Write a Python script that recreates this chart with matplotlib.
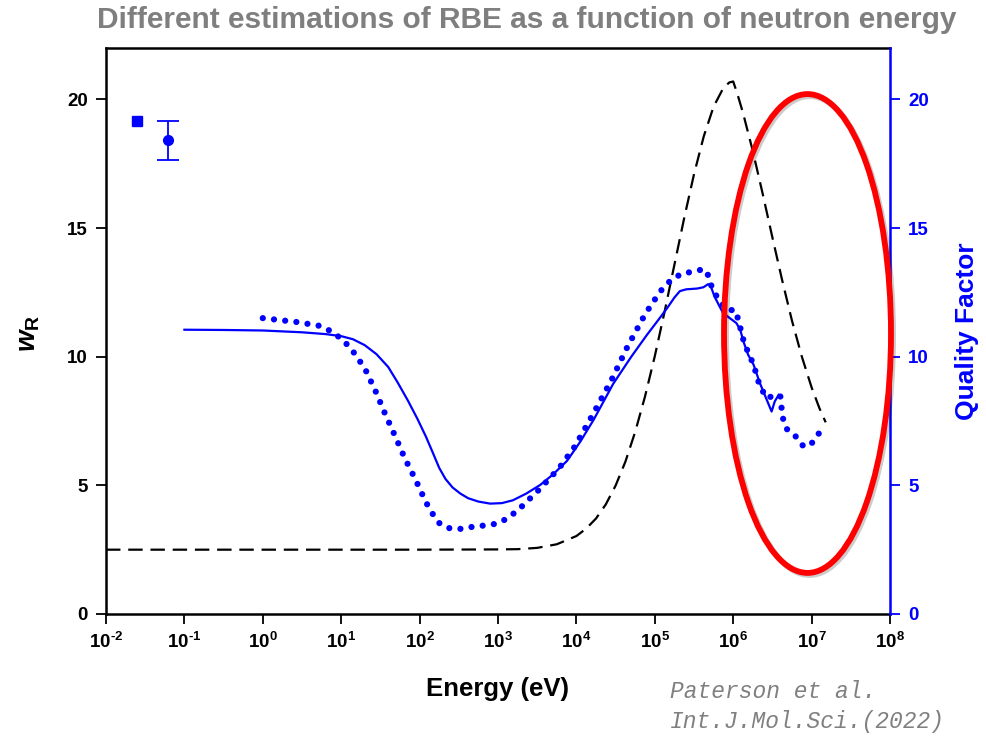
import numpy as np
import matplotlib
matplotlib.use('Agg')
import matplotlib.pyplot as plt
from matplotlib.patches import Ellipse
import matplotlib.patheffects as pe

plt.rcParams['font.family'] = ['Liberation Sans', 'DejaVu Sans']
plt.rcParams['mathtext.fontset'] = 'custom'
plt.rcParams['mathtext.rm'] = 'Liberation Sans:bold'
plt.rcParams['mathtext.bf'] = 'Liberation Sans:bold'
plt.rcParams['mathtext.it'] = 'Liberation Sans:italic:bold'

# ---- data (energies as log10 of eV) ----
wr_logE = [-2.0, 2.0, 3.0, 3.25, 3.5, 3.75, 4.0, 4.125, 4.25, 4.375, 4.5, 4.625, 4.75, 4.875,
           5.0, 5.125, 5.25, 5.375, 5.5, 5.625, 5.75, 5.875, 5.95, 6.0, 6.05, 6.125, 6.25,
           6.375, 6.5, 6.625, 6.75, 6.875, 7.0, 7.1, 7.18]
wr_vals = [2.5, 2.5, 2.51, 2.52, 2.57, 2.71, 3.03, 3.32, 3.71, 4.26, 4.99, 5.92, 7.08, 8.45,
           10.02, 11.75, 13.57, 15.39, 17.09, 18.57, 19.72, 20.45, 20.66, 20.7, 20.25, 19.48, 18.0,
           16.35, 14.64, 12.97, 11.4, 10.01, 8.81, 8.0, 7.45]

q_solid_logE = [-1.0, -0.5, 0.0, 0.5, 0.8, 1.0, 1.15, 1.3, 1.45, 1.6, 1.72, 1.85, 1.97, 2.08,
                2.17, 2.25, 2.33, 2.42, 2.52, 2.62, 2.75, 2.90, 3.05, 3.19, 3.36, 3.54, 3.70,
                3.88, 4.05, 4.22, 4.47, 4.70, 4.90, 5.05, 5.16, 5.25, 5.32, 5.40, 5.54, 5.62,
                5.68, 5.71, 5.76, 5.87, 6.04, 6.09, 6.13, 6.19, 6.26, 6.34, 6.41, 6.49, 6.53, 6.58]
q_solid_vals = [11.05, 11.04, 11.02, 10.95, 10.88, 10.80, 10.68, 10.45, 10.1, 9.6, 9.0, 8.3, 7.6, 6.9,
                6.26, 5.68, 5.25, 4.92, 4.68, 4.50, 4.37, 4.29, 4.31, 4.42, 4.68, 5.02, 5.42,
                5.95, 6.7, 7.55, 8.95, 10.0, 10.85, 11.45, 11.9, 12.3, 12.55, 12.62, 12.65, 12.7,
                12.82, 12.78, 12.35, 11.70, 11.31, 11.05, 10.60, 10.08, 9.69, 8.98, 8.46, 7.87, 8.26, 8.52]

q_dot_logE = [0.0, 0.43, 0.71, 0.85, 0.99, 1.12, 1.22, 1.31, 1.44, 1.56, 1.69, 1.81, 1.95, 2.08,
              2.16, 2.26, 2.40, 2.55, 2.69, 2.83, 2.96, 3.10, 3.25, 3.52, 3.78, 3.98, 4.22,
              4.45, 4.65, 4.88, 5.07, 5.19, 5.34, 5.48, 5.63, 5.69, 5.73, 5.81, 5.92, 6.03,
              6.07, 6.14, 6.26, 6.34, 6.43, 6.53, 6.60, 6.63, 6.68, 6.79, 6.89, 6.98, 7.07, 7.17]
q_dot_vals = [11.5, 11.35, 11.21, 11.02, 10.73, 10.34, 9.91, 9.49, 8.65, 7.78, 6.90, 6.06, 5.21, 4.35,
              3.92, 3.50, 3.31, 3.31, 3.40, 3.44, 3.50, 3.68, 4.02, 4.82, 5.67, 6.51, 7.81,
              9.11, 10.38, 11.67, 12.54, 12.93, 13.23, 13.30, 13.41, 13.12, 12.67, 12.24, 11.83, 11.80,
              11.38, 10.53, 9.69, 8.85, 8.39, 8.50, 8.50, 7.65, 7.20, 6.93, 6.54, 6.54, 6.93, 7.32]

thermal_sq_E = [0.025]
thermal_sq_val = [19.18]
thermal_pt_E = [0.062]
thermal_pt_val = [18.44]
thermal_pt_err_lo = [0.81]
thermal_pt_err_hi = [0.74]

x_exponents = list(range(-2, 9))
y_ticks = [0, 5, 10, 15, 20]

BLUE = '#0000ff'

fig = plt.figure(figsize=(9.87, 7.41), dpi=100)
ax = fig.add_axes([0.1074, 0.1714, 0.7943, 0.7638])
ax2 = ax.twinx()

ax.set_xscale('log')
ax.set_xlim(1e-2, 1e8)
ax.set_ylim(0, 22)
ax2.set_ylim(0, 22)

E = lambda arr: 10.0 ** np.asarray(arr)

ax.plot(E(wr_logE), wr_vals, color='black', lw=1.6, dashes=(6.5, 3.5), zorder=3)
ax.plot(E(q_solid_logE), q_solid_vals, color=BLUE, lw=1.6, zorder=4)
ax.plot(E(q_dot_logE), q_dot_vals, color=BLUE, lw=4.5, linestyle=(0, (0.001, 1.8)),
        dash_capstyle='round', zorder=4)

ax.plot(thermal_sq_E, thermal_sq_val, marker='s', ms=7, color=BLUE, ls='none', zorder=5)
ax.errorbar(thermal_pt_E, thermal_pt_val, yerr=[thermal_pt_err_lo, thermal_pt_err_hi],
            fmt='o', ms=7, color=BLUE, ecolor=BLUE, elinewidth=1.3, capsize=8, capthick=1.3, zorder=5)


def sup_label(k):
    return r'$10^{' + (r'\text{-}' if k < 0 else '') + str(abs(k)) + '}$'


ax.set_xticks([10.0 ** k for k in x_exponents])
ax.set_xticklabels([sup_label(k) for k in x_exponents])
ax.xaxis.set_minor_locator(matplotlib.ticker.NullLocator())
ax.set_yticks(y_ticks)
ax.set_yticklabels([str(v) for v in y_ticks])
ax2.set_yticks(y_ticks)
ax2.set_yticklabels([str(v) for v in y_ticks])

ax.tick_params(axis='both', direction='out', length=7, width=1.3, labelsize=13.5, colors='black', pad=6)
for lab in ax.get_yticklabels():
    lab.set_fontweight('bold')
ax2.tick_params(axis='y', direction='out', length=7, width=1.3, labelsize=13.5, colors=BLUE, pad=6)
for lab in ax2.get_yticklabels():
    lab.set_fontweight('bold')

for s in ['left', 'bottom', 'top']:
    ax.spines[s].set_linewidth(1.8)
    ax.spines[s].set_color('black')
ax.spines['right'].set_visible(False)
for s in ['left', 'bottom', 'top']:
    ax2.spines[s].set_visible(False)
ax2.spines['right'].set_color(BLUE)
ax2.spines['right'].set_linewidth(1.8)

ax.set_xlabel('Energy (eV)', fontsize=18.5, fontweight='bold', labelpad=18)
fig.text(0.029, 0.55, r'$w_{\mathrm{R}}$', rotation=90, fontsize=20, ha='center', va='center')
fig.text(0.980, 0.553, 'Quality Factor', rotation=90, fontsize=19, fontweight='bold',
         color=BLUE, ha='center', va='center')

ell = Ellipse((0.8948, 0.4956), 0.213, 0.846, transform=ax.transAxes, fill=False,
              edgecolor='red', lw=4.2, zorder=10, clip_on=False)
ell.set_path_effects([pe.SimpleLineShadow(offset=(1.5, -1.5), shadow_color='black', alpha=0.2),
                      pe.Normal()])
ax2.add_patch(ell)

fig.text(0.534, 0.973, 'Different estimations of RBE as a function of neutron energy',
         ha='center', va='center', fontsize=21.5, fontweight='bold', color='#7f7f7f',
         family=['Liberation Sans Narrow', 'Liberation Sans', 'DejaVu Sans'])
fig.text(0.679, 0.058, 'Paterson et al.', fontsize=16.5, style='italic', color='#808080',
         family=['Liberation Mono', 'DejaVu Sans Mono'], ha='left', va='baseline')
fig.text(0.679, 0.018, 'Int.J.Mol.Sci.(2022)', fontsize=16.5, style='italic', color='#808080',
         family=['Liberation Mono', 'DejaVu Sans Mono'], ha='left', va='baseline')

fig.savefig('out.png', dpi=100)
